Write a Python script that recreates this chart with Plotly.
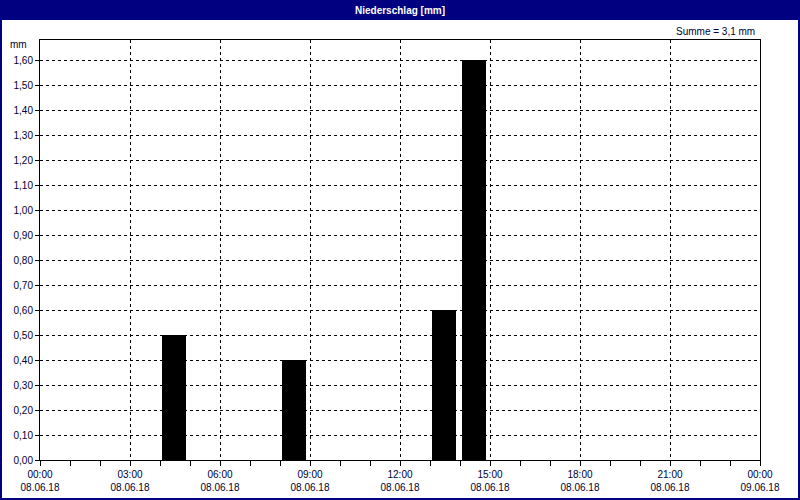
import plotly.graph_objects as go

# Data
bar_start_times = ["2018-06-08 04:00", "2018-06-08 08:00", "2018-06-08 13:00", "2018-06-08 14:00"]
precip_mm = [0.5, 0.4, 0.6, 1.6]
tick_times = ["2018-06-08 00:00", "2018-06-08 03:00", "2018-06-08 06:00", "2018-06-08 09:00",
              "2018-06-08 12:00", "2018-06-08 15:00", "2018-06-08 18:00", "2018-06-08 21:00",
              "2018-06-09 00:00"]
tick_labels = ["00:00<br>08.06.18", "03:00<br>08.06.18", "06:00<br>08.06.18", "09:00<br>08.06.18",
               "12:00<br>08.06.18", "15:00<br>08.06.18", "18:00<br>08.06.18", "21:00<br>08.06.18",
               "00:00<br>09.06.18"]
title_text = "Niederschlag [mm]"
sum_text = "Summe = 3,1 mm"
unit_text = "mm"

HOUR_MS = 3600000
NAVY = "#000080"
TXT = "#000030"
FONT = "Liberation Sans"

W, H = 800, 500
L, R, T, B = 40, 40, 40, 40
PW, PH = W - L - R, H - T - B

def px_x(p):
    return (p - L) / PW

def px_y(p):
    return 1 - (p - T) / PH

fig = go.Figure()
fig.add_trace(go.Bar(
    x=bar_start_times, y=precip_mm,
    width=[0.8 * HOUR_MS] * len(precip_mm),
    offset=0.07 * HOUR_MS,
    marker=dict(color="#000000", line=dict(width=0)),
    hoverinfo="x+y",
))

fig.update_layout(
    width=W, height=H,
    margin=dict(l=L, r=R, t=T, b=B, autoexpand=False),
    paper_bgcolor="white", plot_bgcolor="white",
    separators=",.",
    showlegend=False,
    font=dict(family=FONT, size=10, color=TXT),
    bargap=0,
)

fig.update_xaxes(
    type="date", automargin=False,
    range=["2018-06-08 00:00", "2018-06-09 00:00"],
    tickvals=tick_times, ticktext=tick_labels,
    showgrid=True, gridcolor="black", gridwidth=1, griddash="3px,3px",
    ticks="outside", ticklen=5, tickcolor="black",
    minor=dict(dtick=HOUR_MS, tick0="2018-06-08 00:00", ticks="outside", ticklen=5,
               tickcolor="black", showgrid=False),
    showline=True, linecolor="black", linewidth=1, mirror=True,
    zeroline=False,
    tickfont=dict(family=FONT, size=10, color=TXT),
)
fig.update_yaxes(
    automargin=False,
    range=[0, 1.68],
    dtick=0.1, tick0=0, tickformat=".2f",
    showgrid=True, gridcolor="black", gridwidth=1, griddash="3px,3px",
    ticks="outside", ticklen=4, tickcolor="black",
    showline=True, linecolor="black", linewidth=1, mirror=True,
    zeroline=False,
    tickfont=dict(family=FONT, size=10, color=TXT),
)

# Title bar and frame
fig.add_shape(type="rect", xref="paper", yref="paper",
              x0=px_x(0), x1=px_x(W), y0=px_y(20), y1=px_y(0),
              fillcolor=NAVY, line=dict(width=0), layer="above")
fig.add_shape(type="rect", xref="paper", yref="paper",
              x0=px_x(1), x1=px_x(W - 1), y0=px_y(H - 1), y1=px_y(1),
              fillcolor="rgba(0,0,0,0)", line=dict(color=NAVY, width=2), layer="above")

fig.add_annotation(text="<b>" + title_text + "</b>", xref="paper", yref="paper",
                   x=0.5, y=px_y(10), xanchor="center", yanchor="middle",
                   showarrow=False, font=dict(family=FONT, size=10, color="white"))
fig.add_annotation(text=sum_text, xref="paper", yref="paper",
                   x=px_x(757), y=px_y(31), xanchor="right", yanchor="middle",
                   showarrow=False, font=dict(family=FONT, size=10, color=TXT))
fig.add_annotation(text=unit_text, xref="paper", yref="paper",
                   x=px_x(29), y=px_y(45), xanchor="right", yanchor="middle",
                   showarrow=False, font=dict(family=FONT, size=10, color=TXT))

fig.write_html("out.html", config={"displayModeBar": False},
               post_script="document.body.style.margin='0';document.body.style.overflow='hidden';")
